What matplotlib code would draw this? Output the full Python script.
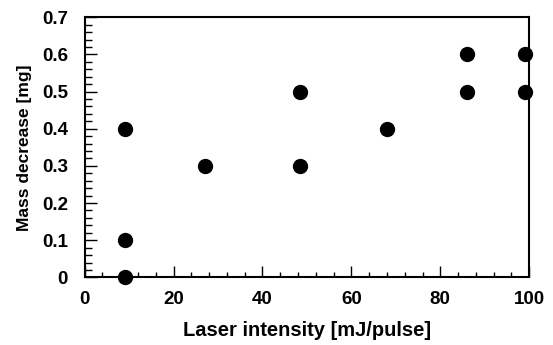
import matplotlib
matplotlib.use("Agg")
import matplotlib.pyplot as plt
from matplotlib.ticker import MultipleLocator

# data
laser_x = [9, 9, 9, 27, 48.4, 48.4, 68, 86, 86, 99, 99]
mass_y = [0.4, 0.1, 0.0, 0.3, 0.5, 0.3, 0.4, 0.6, 0.5, 0.6, 0.5]
y_ticks = [0, 0.1, 0.2, 0.3, 0.4, 0.5, 0.6, 0.7]
y_labels = ['0', '0.1', '0.2', '0.3', '0.4', '0.5', '0.6', '0.7']

plt.rcParams['font.family'] = ['Liberation Sans', 'DejaVu Sans']
plt.rcParams['font.weight'] = 'bold'

fig = plt.figure(figsize=(5.53, 3.45), dpi=100)
ax = fig.add_axes([0.153, 0.196, 0.804, 0.754])

ax.plot(laser_x, mass_y, 'o', color='black', markersize=10, clip_on=False, zorder=5)

ax.set_xlim(0, 100)
ax.set_ylim(0, 0.7)
ax.xaxis.set_major_locator(MultipleLocator(20))
ax.xaxis.set_minor_locator(MultipleLocator(4))
ax.yaxis.set_minor_locator(MultipleLocator(0.02))
ax.set_yticks(y_ticks)
ax.set_yticklabels(y_labels)

ax.tick_params(axis='x', which='major', direction='in', length=7.7, width=1, labelsize=13.5, pad=10)
ax.tick_params(axis='x', which='minor', direction='in', length=3.4, width=1)
ax.tick_params(axis='y', which='major', direction='in', length=8.6, width=1, labelsize=13.5, pad=12)
ax.tick_params(axis='y', which='minor', direction='in', length=5, width=1)
for lab in ax.get_xticklabels() + ax.get_yticklabels():
    lab.set_fontweight('bold')

for s in ax.spines.values():
    s.set_linewidth(1.5)

ax.set_xlabel('Laser intensity [mJ/pulse]', fontsize=14.5, fontweight='bold', labelpad=9)
ax.set_ylabel('Mass decrease [mg]', fontsize=12.5, fontweight='bold', labelpad=7)

fig.savefig('out.png', dpi=100)
